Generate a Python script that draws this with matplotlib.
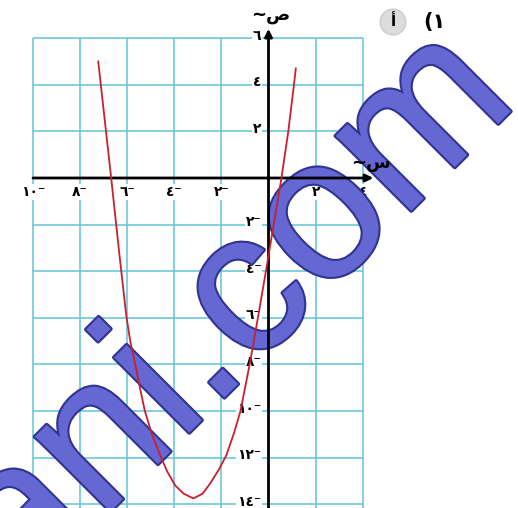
import matplotlib
matplotlib.use("Agg")
import matplotlib.pyplot as plt
import matplotlib.patheffects as pe

plt.rcParams['font.family'] = ['DejaVu Sans']

# curve points (x, y)
curve_x = [-7.23, -7.12, -6.90, -6.68, -6.34, -6.04, -5.87, -5.66, -5.46, -5.25,
           -4.95, -4.60, -4.30, -3.96, -3.60, -3.19, -2.80, -2.47, -2.10, -1.79,
           -1.45, -1.19, -0.80, -0.45, -0.11, 0.22, 0.55, 0.84, 1.08, 1.16]
curve_y = [5.0, 4.0, 2.0, 0.0, -3.2, -5.9, -7.0, -8.0, -9.0, -10.0,
           -11.0, -11.9, -12.6, -13.2, -13.55, -13.75, -13.55, -13.1, -12.5, -11.9,
           -10.9, -10.0, -8.0, -6.0, -4.0, -2.0, 0.0, 2.0, 4.0, 4.7]

grid_x = [-10, -8, -6, -4, -2, 2, 4]
grid_y = [-14, -12, -10, -8, -6, -4, -2, 2, 4, 6]

x_ticks = [-10, -8, -6, -4, -2, 2, 4]
x_labels = ['١٠⁻', '٨⁻', '٦⁻', '٤⁻', '٢⁻', '٢', '٤']
y_ticks = [6, 4, 2, -2, -4, -6, -8, -10, -12, -14]
y_labels = ['٦', '٤', '٢', '٢⁻', '٤⁻', '٦⁻', '٨⁻', '١٠⁻', '١٢⁻', '١٤⁻']

W, H = 518, 508
# pixel layout of the reference
x0_px, sx = 268.5, 23.55
y0_px, sy = 178.0, 23.3

fig = plt.figure(figsize=(W / 100, H / 100), dpi=100)
ax = fig.add_axes([0, 0, 1, 1])
ax.set_xlim((0 - x0_px) / sx, (W - x0_px) / sx)
ax.set_ylim((y0_px - H) / sy, y0_px / sy)
ax.axis('off')

grid_col = '#62c3d6'
ybot = (y0_px - H) / sy
ax.vlines(grid_x, ybot, 6, colors=grid_col, lw=1.1, zorder=1)
ax.hlines(grid_y, -10, 4, colors=grid_col, lw=1.1, zorder=1)

box = dict(fc='white', ec='none', pad=0.5)
for xv, lab in zip(x_ticks, x_labels):
    ax.text(xv, -0.6, lab, ha='center', va='center', fontsize=10,
            fontweight='bold', bbox=box, zorder=2)
for yv, lab in zip(y_ticks, y_labels):
    ax.text(-0.3, yv + 0.1, lab, ha='right', va='center', fontsize=10,
            fontweight='bold', bbox=box, zorder=2)

# watermark (above grid and labels, below axes and curve)
wm = ax.text(520 / W, 1 - 102 / H, 'ani.com', ha='right', va='baseline',
             rotation=45, rotation_mode='anchor', fontsize=145,
             family='Liberation Sans', color='#6567d2', zorder=3,
             transform=fig.transFigure)
wm.set_path_effects([pe.withStroke(linewidth=3, foreground='#30338f')])

# axes with arrows
ax.annotate('', xy=(4.45, 0), xytext=(-10, 0),
            arrowprops=dict(arrowstyle='-|>', lw=2, color='black',
                            mutation_scale=11, shrinkA=0, shrinkB=0), zorder=4)
ax.annotate('', xy=(0, 6.4), xytext=(0, ybot),
            arrowprops=dict(arrowstyle='-|>', lw=2, color='black',
                            mutation_scale=11, shrinkA=0, shrinkB=0), zorder=4)

ax.plot(curve_x, curve_y, color='#c8202e', lw=1.3, zorder=5)

ax.text(4.35, 0.65, '~س', ha='center', va='center', fontsize=13, fontweight='bold', zorder=5)
ax.text(0.1, 7.0, '~ص', ha='center', va='center', fontsize=13, fontweight='bold', zorder=5)

# exercise number
fig.text(393 / W, 1 - 22 / H, 'أ', ha='center', va='center', fontsize=11,
         fontweight='bold',
         bbox=dict(boxstyle='circle,pad=0.35', fc='#dcdcdc', ec='#cccccc'))
fig.text(434 / W, 1 - 22 / H, '(١', ha='center', va='center', fontsize=15,
         fontweight='bold')

fig.savefig('out.png', dpi=100)
